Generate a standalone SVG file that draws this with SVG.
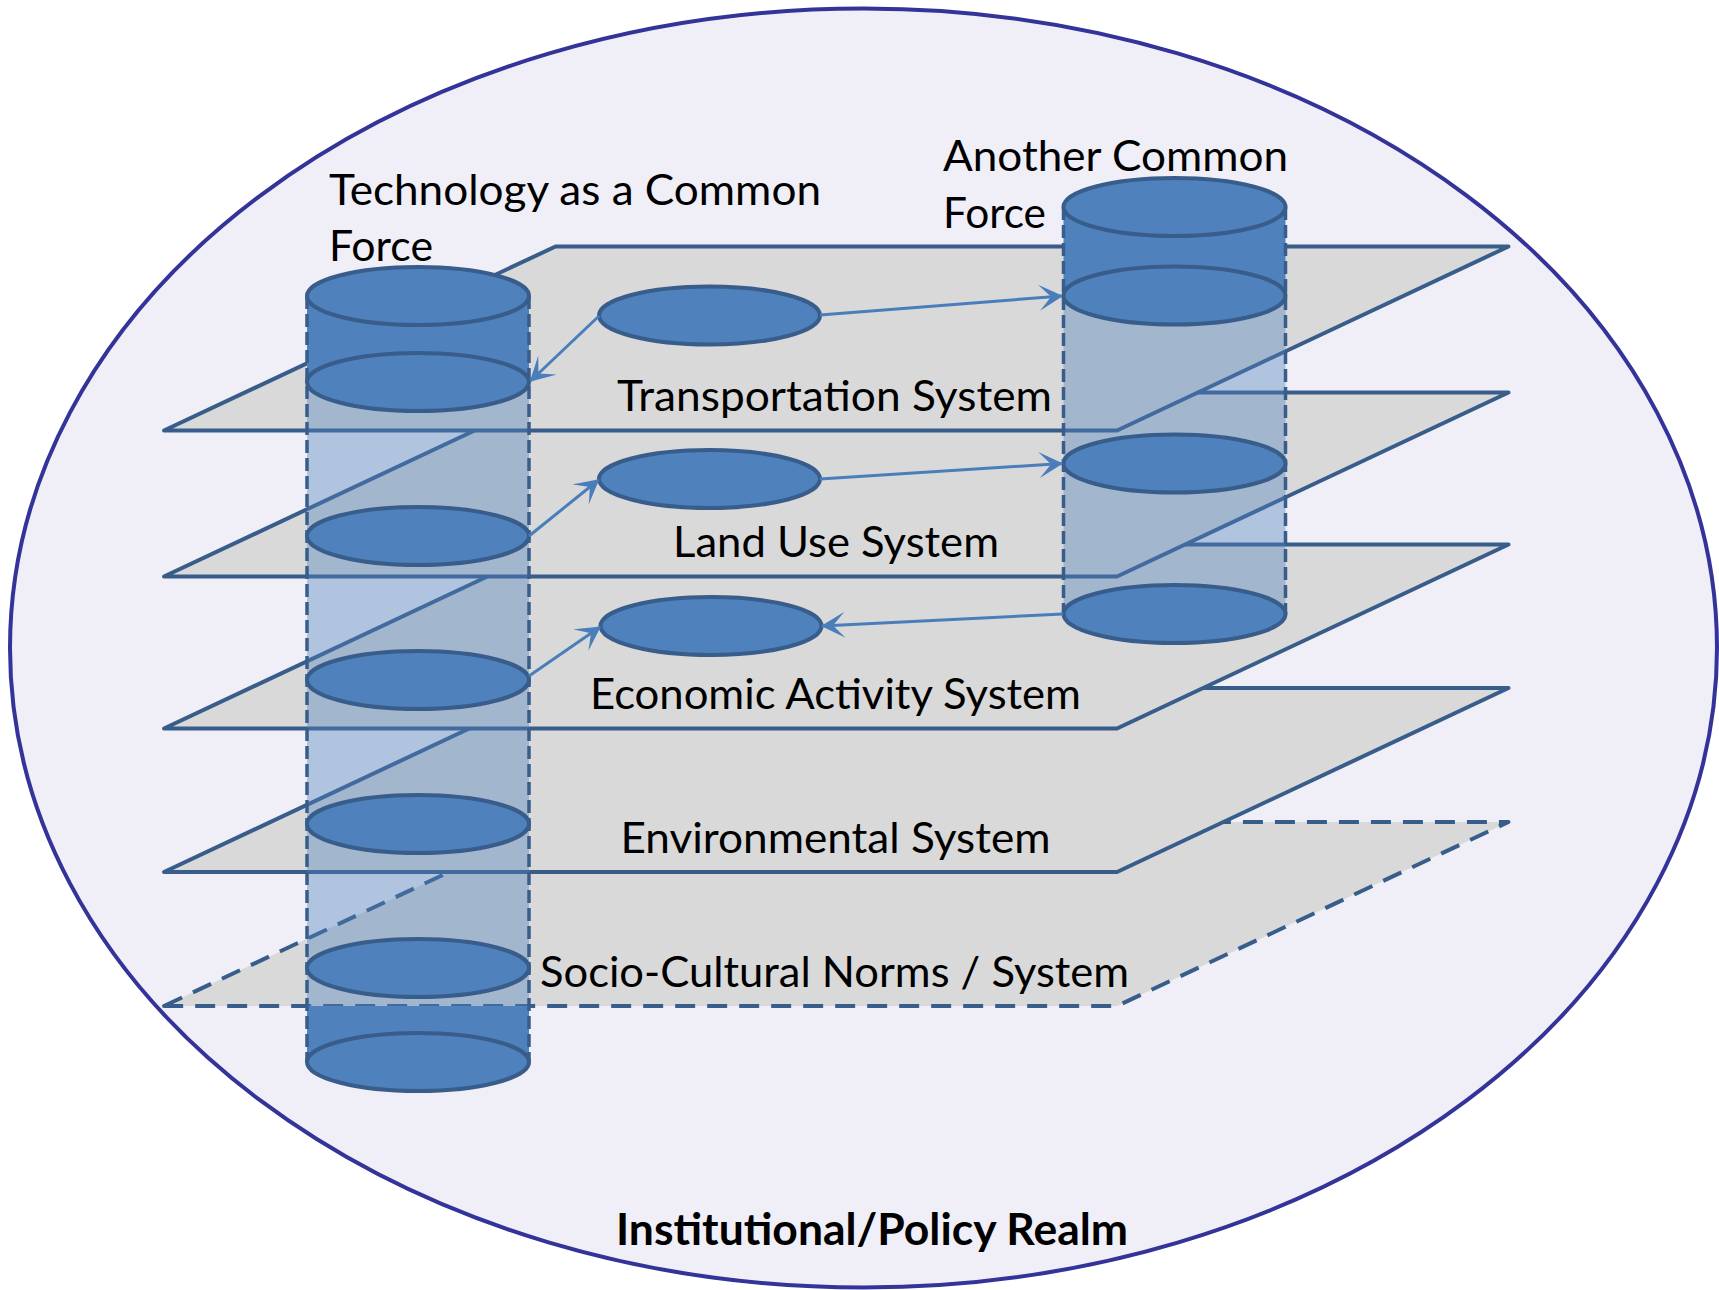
<svg xmlns="http://www.w3.org/2000/svg" width="1719" height="1290" viewBox="0 0 1719 1290">
<style>
.plane{fill:#d9d9d9;stroke:#385d8a;stroke-width:4;stroke-linejoin:round}
.dplane{fill:#d9d9d9;stroke:#385d8a;stroke-width:4;stroke-dasharray:20 12;stroke-linejoin:round}
.disk{fill:#4f81bd;stroke:#385d8a;stroke-width:4}
.solid{fill:#4f81bd;stroke:none}
.glass{fill:#4f81bd;fill-opacity:0.4;stroke:none}
.side{stroke:#385d8a;stroke-width:3.5;stroke-dasharray:13 5;fill:none}
.conn{stroke:#4a7ebb;stroke-width:3;fill:none;marker-end:url(#ah)}
.lbl{font-family:Lato,"Liberation Sans",sans-serif;font-size:43px;fill:#000}
.bold{font-weight:bold}
</style>
<defs>
<marker id="ah" markerUnits="userSpaceOnUse" markerWidth="24" markerHeight="26" viewBox="0 0 24 26" refX="23" refY="13" orient="auto">
<path d="M0,0 L24,13 L0,26 L12,13 z" fill="#4a7ebb"/>
</marker>
</defs>
<g id="realm">
<ellipse cx="863.5" cy="648" rx="853.5" ry="639.5" fill="#f0eef6" stroke="#333399" stroke-width="4"/>
</g>
<g id="planes">
<polygon id="plane-socio" class="dplane" points="164,1006 555.5,822 1508.5,822 1117,1006"/>
<polygon id="plane-env" class="plane" points="164,872 555.5,688 1508.5,688 1117,872"/>
<polygon id="plane-econ" class="plane" points="164,728.5 555.5,544.5 1508.5,544.5 1117,728.5"/>
<polygon id="plane-land" class="plane" points="164,576.5 555.5,392.5 1508.5,392.5 1117,576.5"/>
<polygon id="plane-trans" class="plane" points="164,430.5 555.5,246.5 1508.5,246.5 1117,430.5"/>
</g>
<g id="cyl-tech">
<rect class="glass" x="307" y="382" width="222" height="624"/>
<rect class="solid" x="307" y="296" width="222" height="86"/>
<rect class="solid" x="307" y="1006" width="222" height="56"/>
<line class="side" x1="307" y1="296" x2="307" y2="1062"/>
<line class="side" x1="529" y1="296" x2="529" y2="1062"/>
<ellipse class="disk" cx="418" cy="296" rx="111" ry="29"/>
<ellipse class="disk" cx="418" cy="382" rx="111" ry="29"/>
<ellipse class="disk" cx="418" cy="536" rx="111" ry="29"/>
<ellipse class="disk" cx="418" cy="680" rx="111" ry="29"/>
<ellipse class="disk" cx="418" cy="824" rx="111" ry="29"/>
<ellipse class="disk" cx="418" cy="968" rx="111" ry="29"/>
<ellipse class="disk" cx="418" cy="1062" rx="111" ry="29"/>
</g>
<g id="cyl-other">
<rect class="glass" x="1063.5" y="295.5" width="222" height="318.5"/>
<rect class="solid" x="1063.5" y="207" width="222" height="88.5"/>
<line class="side" x1="1063.5" y1="207" x2="1063.5" y2="614"/>
<line class="side" x1="1285.5" y1="207" x2="1285.5" y2="614"/>
<ellipse class="disk" cx="1174.5" cy="207" rx="111" ry="29"/>
<ellipse class="disk" cx="1174.5" cy="295.5" rx="111" ry="29"/>
<ellipse class="disk" cx="1174.5" cy="463.5" rx="111" ry="29"/>
<ellipse class="disk" cx="1174.5" cy="614" rx="111" ry="29"/>
</g>
<g id="node-trans"><ellipse class="disk" cx="709.5" cy="315.5" rx="110.5" ry="29"/></g>
<g id="node-land"><ellipse class="disk" cx="709.5" cy="479" rx="110.5" ry="29"/></g>
<g id="node-econ"><ellipse class="disk" cx="711" cy="626" rx="110.5" ry="29"/></g>
<g id="connectors">
<path class="conn" d="M599,316 L530.5,381"/>
<path class="conn" d="M820,315 L1062,296"/>
<path class="conn" d="M529,536 L598.5,480"/>
<path class="conn" d="M820,479 L1062,463.5"/>
<path class="conn" d="M529,676 L600,627"/>
<path class="conn" d="M1063,614 L822,626"/>
</g>
<g id="labels">
<text class="lbl" x="329" y="205" textLength="492" lengthAdjust="spacingAndGlyphs">Technology as a Common</text>
<text class="lbl" x="329" y="261" textLength="104" lengthAdjust="spacingAndGlyphs">Force</text>
<text class="lbl" x="943" y="171" textLength="345" lengthAdjust="spacingAndGlyphs">Another Common</text>
<text class="lbl" x="943" y="228" textLength="103" lengthAdjust="spacingAndGlyphs">Force</text>
<text class="lbl" x="617" y="411" textLength="435" lengthAdjust="spacingAndGlyphs">Transportation System</text>
<text class="lbl" x="673" y="557" textLength="326" lengthAdjust="spacingAndGlyphs">Land Use System</text>
<text class="lbl" x="590" y="709" textLength="491" lengthAdjust="spacingAndGlyphs">Economic Activity System</text>
<text class="lbl" x="620.5" y="853" textLength="430" lengthAdjust="spacingAndGlyphs">Environmental System</text>
<text class="lbl" x="540" y="987" textLength="589" lengthAdjust="spacingAndGlyphs">Socio-Cultural Norms / System</text>
<text class="lbl bold" x="616" y="1245" textLength="512" lengthAdjust="spacingAndGlyphs">Institutional/Policy Realm</text>
</g>
</svg>
